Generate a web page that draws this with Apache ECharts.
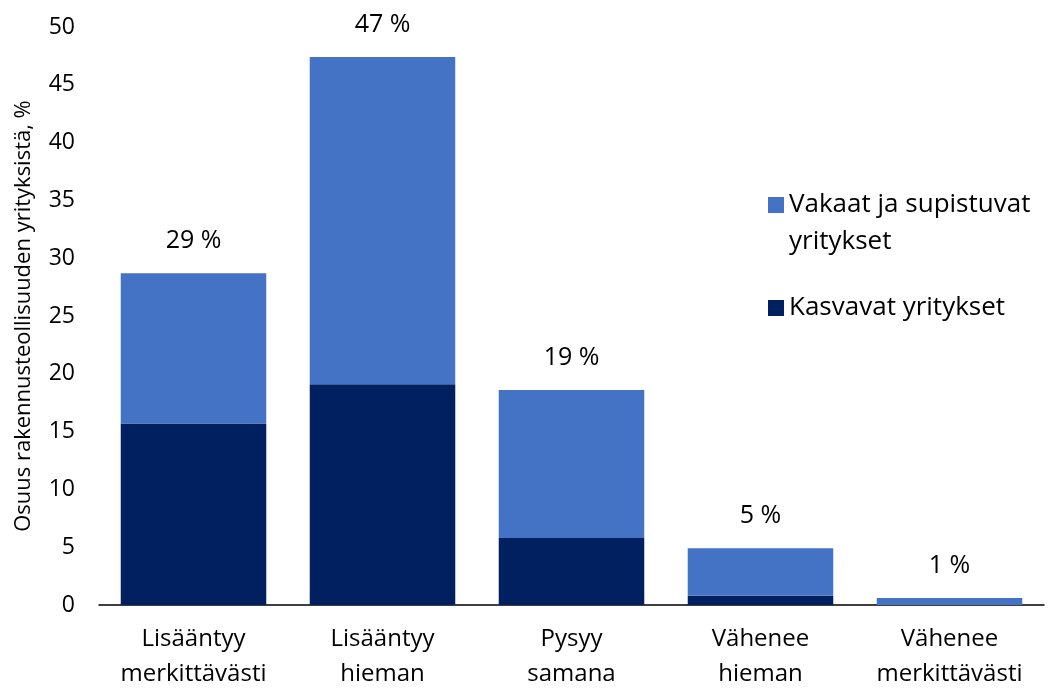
<!DOCTYPE html>
<html>
<head>
<meta charset="utf-8">
<script src="https://cdn.jsdelivr.net/npm/echarts@6/dist/echarts.min.js"></script>
<style>
  html, body { margin: 0; padding: 0; background: #fff; }
  #chart { width: 1053px; height: 692px; }
</style>
</head>
<body>
<div id="chart"></div>
<script>
const categories = [
  'Lisääntyy\nmerkittävästi',
  'Lisääntyy\nhieman',
  'Pysyy\nsamana',
  'Vähenee\nhieman',
  'Vähenee\nmerkittävästi'
];
// Kasvavat yritykset (dark part)
const growing = [15.7, 19.1, 5.8, 0.8, 0];
// Vakaat ja supistuvat yritykset (light part, stacked on top)
const stable = [13.0, 28.3, 12.8, 4.1, 0.6];
// labels shown above each bar
const totalLabels = ['29 %', '47 %', '19 %', '5 %', '1 %'];

const FONT = '"Open Sans", "Noto Sans", sans-serif';

const chart = echarts.init(document.getElementById('chart'));
chart.setOption({
  animation: false,
  textStyle: { fontFamily: FONT, color: '#000' },
  grid: { left: 99, right: 9, top: 27, bottom: 85 },
  legend: {
    orient: 'vertical',
    left: 763,
    top: 180,
    itemWidth: 16,
    itemHeight: 16,
    itemGap: 63,
    icon: 'rect',
    textStyle: { fontSize: 26, fontFamily: FONT, color: '#000', lineHeight: 40 },
    data: ['Vakaat ja supistuvat', 'Kasvavat yritykset']
  },
  // second line of the first legend entry (legend centres the square on
  // multi-line text, the original has it beside the first line)
  graphic: [{
    type: 'text',
    left: 789,
    top: 229,
    style: { text: 'yritykset', font: '26px ' + FONT, fill: '#000' }
  }],
  xAxis: {
    type: 'category',
    data: categories,
    axisLine: { show: true, lineStyle: { color: '#000', width: 1.5 } },
    axisTick: { show: false },
    axisLabel: {
      interval: 0,
      fontSize: 24,
      lineHeight: 35,
      margin: 17,
      color: '#000',
      fontFamily: FONT
    }
  },
  yAxis: {
    type: 'value',
    min: 0,
    max: 50,
    interval: 5,
    name: 'Osuus rakennusteollisuuden yrityksistä, %',
    nameLocation: 'middle',
    nameGap: 64,
    nameTextStyle: { fontSize: 22, color: '#000', fontFamily: FONT },
    axisLine: { show: false },
    axisTick: { show: false },
    splitLine: { show: false },
    axisLabel: { fontSize: 23, color: '#000', margin: 24, fontFamily: FONT }
  },
  series: [
    {
      name: 'Kasvavat yritykset',
      type: 'bar',
      stack: 'total',
      barCategoryGap: '23%',
      data: growing,
      itemStyle: { color: '#002060' }
    },
    {
      name: 'Vakaat ja supistuvat',
      type: 'bar',
      stack: 'total',
      barCategoryGap: '23%',
      data: stable,
      itemStyle: { color: '#4472C4' },
      label: {
        show: true,
        position: 'top',
        distance: 20,
        fontSize: 25,
        color: '#000',
        fontFamily: FONT,
        formatter: p => totalLabels[p.dataIndex]
      }
    }
  ]
});
</script>
</body>
</html>
